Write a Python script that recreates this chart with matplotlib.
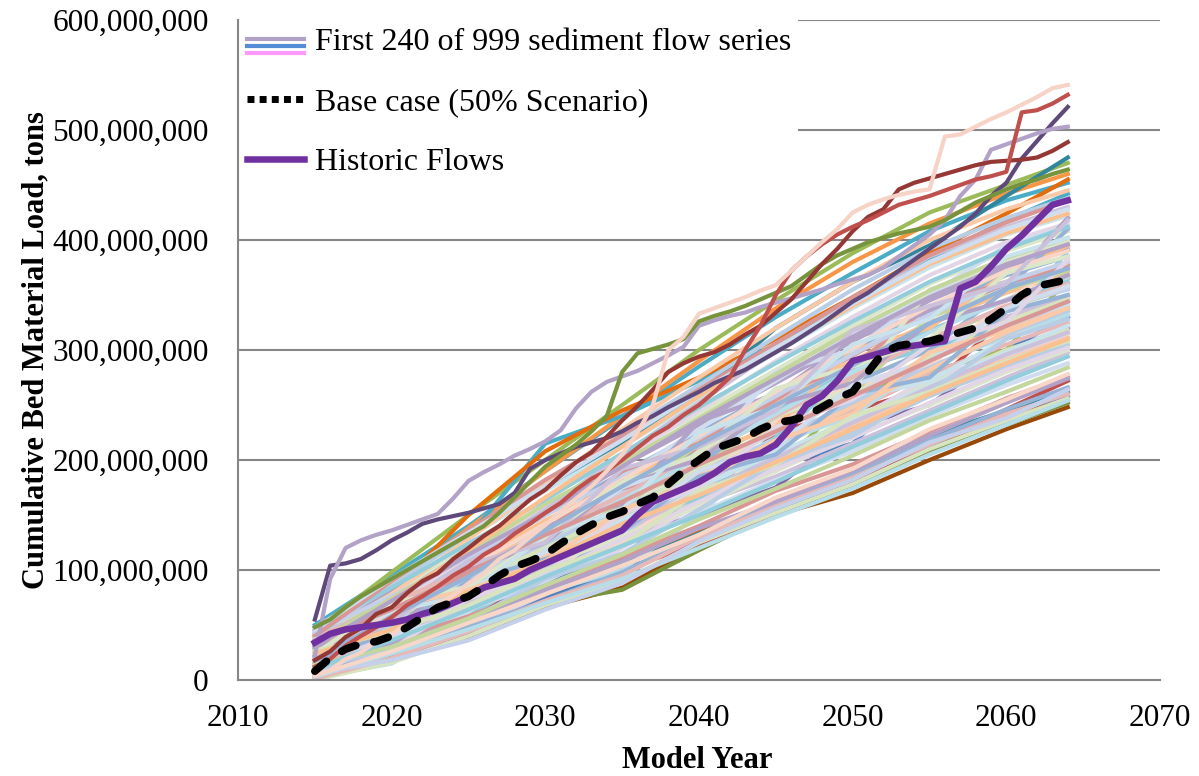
import matplotlib
matplotlib.use("Agg")
import matplotlib.pyplot as plt
from matplotlib.lines import Line2D
from matplotlib.legend_handler import HandlerBase
from matplotlib.ticker import FuncFormatter

plt.rcParams["font.family"] = ["Liberation Serif", "DejaVu Serif"]

# ---- data (million tons) ----
years = list(range(2015, 2065))
sample_years = [2015, 2020, 2025, 2030, 2035, 2040, 2045, 2050, 2055, 2060, 2064]

historic_flows = [
    34, 42, 46, 48, 50, 52, 55, 60, 64, 70,
    76, 84, 88, 92, 100, 106, 112, 118, 124, 130,
    136, 150, 162, 168, 174, 180, 188, 198, 203, 206,
    214, 230, 250, 258, 272, 290, 294, 298, 302, 304,
    306, 308, 356, 362, 376, 392, 404, 418, 432, 436,
]
base_case = [
    8, 20, 28, 33, 35, 40, 48, 57, 66, 71,
    76, 85, 95, 103, 108, 114, 124, 133, 141, 148,
    153, 160, 166, 178, 190, 200, 210, 215, 220, 228,
    234, 236, 240, 248, 256, 262, 280, 298, 304, 306,
    308, 312, 316, 320, 328, 338, 350, 358, 361, 364,
]

# series that stand out at the edges of the band, read year by year
edge_series = [
    [55, 104, 106, 110, 118, 127, 134, 142, 146, 149,
     152, 156, 160, 170, 192, 200, 206, 212, 216, 220,
     226, 234, 240, 248, 255, 262, 270, 276, 282, 290,
     298, 306, 315, 324, 334, 344, 352, 362, 372, 382,
     392, 402, 412, 424, 440, 452, 474, 490, 506, 521],
    [22, 92, 120, 127, 132, 136, 141, 146, 151, 165,
     181, 189, 196, 204, 210, 217, 227, 247, 262, 271,
     276, 281, 288, 295, 303, 322, 327, 331, 334, 339,
     343, 347, 351, 355, 360, 364, 368, 375, 385, 395,
     405, 418, 440, 455, 482, 487, 492, 497, 501, 503],
    [48, 55, 66, 76, 84, 92, 100, 108, 116, 124,
     132, 140, 152, 166, 180, 194, 204, 214, 226, 240,
     280, 297, 301, 305, 310, 326, 331, 335, 340, 346,
     352, 358, 368, 378, 386, 392, 398, 402, 406, 409,
     412, 418, 426, 434, 440, 446, 451, 455, 460, 464],
    [18, 26, 39, 47, 60, 66, 79, 90, 97, 110,
     120, 131, 140, 152, 164, 173, 186, 198, 207, 221,
     236, 249, 264, 280, 288, 294, 298, 305, 314, 322,
     334, 346, 362, 378, 392, 408, 421, 428, 446, 452,
     456, 460, 464, 468, 471, 472, 473, 475, 481, 489],
    [12, 19, 31, 40, 48, 57, 68, 76, 85, 95,
     103, 114, 122, 133, 142, 152, 161, 173, 183, 190,
     200, 211, 222, 230, 241, 250, 262, 275, 300, 322,
     350, 372, 385, 396, 405, 412, 418, 425, 432, 436,
     440, 445, 450, 455, 458, 462, 516, 518, 524, 532],
    [4, 9, 19, 25, 35, 41, 52, 58, 69, 77,
     88, 97, 110, 118, 130, 141, 153, 165, 176, 190,
     205, 225, 250, 300, 312, 333, 338, 343, 348, 354,
     359, 372, 385, 398, 410, 425, 432, 437, 441, 444,
     446, 494, 496, 503, 510, 516, 523, 530, 538, 541],
]

# remaining sediment series, read every five years
band_series = [
    [2, 18, 38, 66, 84, 122, 150, 170, 200, 228, 248],
    [4, 22, 45, 70, 82, 118, 152, 176, 208, 232, 252],
    [8, 28, 50, 75, 100, 126, 155, 178, 212, 236, 258],
    [12, 35, 60, 88, 110, 135, 160, 185, 215, 238, 255],
    [5, 28, 50, 80, 105, 133, 162, 190, 222, 245, 262],
    [20, 40, 62, 85, 100, 124, 150, 180, 214, 246, 272],
    [15, 38, 68, 98, 125, 160, 185, 215, 245, 275, 298],
    [10, 40, 72, 100, 135, 165, 195, 225, 258, 285, 305],
    [25, 52, 78, 110, 140, 172, 200, 232, 262, 292, 312],
    [3, 32, 62, 95, 130, 168, 205, 238, 270, 300, 318],
    [30, 60, 88, 118, 150, 180, 212, 245, 278, 305, 325],
    [18, 50, 85, 115, 148, 185, 220, 250, 285, 312, 332],
    [22, 55, 90, 125, 155, 190, 225, 262, 292, 320, 340],
    [35, 65, 95, 130, 165, 200, 232, 270, 300, 328, 348],
    [12, 45, 82, 120, 160, 195, 236, 275, 310, 338, 356],
    [28, 62, 100, 138, 172, 210, 245, 282, 318, 345, 362],
    [40, 72, 105, 145, 180, 218, 252, 290, 325, 352, 370],
    [8, 42, 80, 125, 170, 212, 255, 295, 332, 360, 378],
    [32, 70, 110, 150, 188, 225, 262, 300, 338, 368, 385],
    [45, 80, 118, 158, 195, 232, 270, 308, 345, 375, 392],
    [15, 55, 98, 140, 185, 228, 272, 315, 352, 382, 400],
    [38, 78, 122, 165, 205, 242, 282, 322, 360, 390, 408],
    [25, 68, 112, 158, 200, 245, 290, 330, 368, 398, 415],
    [48, 88, 130, 172, 212, 255, 298, 338, 375, 405, 422],
    [20, 62, 108, 155, 205, 252, 300, 345, 385, 412, 430],
    [42, 85, 132, 180, 225, 268, 312, 355, 392, 420, 438],
    [30, 78, 128, 178, 228, 275, 320, 362, 400, 428, 445],
    [50, 95, 140, 190, 238, 285, 330, 370, 408, 436, 452],
    [35, 85, 138, 190, 240, 290, 338, 380, 415, 442, 460],
    [45, 98, 150, 200, 250, 300, 345, 388, 425, 450, 470],
    [6, 20, 42, 95, 130, 150, 175, 230, 250, 300, 320],
    [10, 25, 70, 90, 110, 175, 195, 215, 280, 300, 330],
    [28, 40, 60, 110, 125, 160, 225, 245, 265, 330, 345],
    [15, 60, 75, 95, 150, 170, 190, 260, 280, 300, 365],
    [2, 15, 55, 80, 100, 150, 215, 240, 290, 320, 335],
    [24, 50, 65, 120, 170, 190, 210, 250, 310, 340, 355],
    [12, 30, 85, 105, 125, 180, 235, 265, 285, 345, 380],
    [36, 75, 90, 110, 160, 215, 240, 260, 330, 355, 372],
    [5, 38, 58, 100, 145, 165, 220, 282, 302, 322, 390],
    [20, 48, 95, 145, 165, 205, 230, 300, 320, 370, 395],
    [40, 58, 80, 135, 190, 215, 260, 285, 340, 362, 375],
    [8, 35, 65, 88, 140, 195, 250, 270, 300, 355, 410],
    [30, 68, 85, 140, 160, 235, 260, 310, 335, 360, 420],
    [18, 42, 100, 120, 175, 200, 280, 300, 350, 395, 412],
    [26, 52, 72, 128, 150, 208, 240, 265, 355, 380, 398],
    [10, 28, 48, 78, 120, 160, 200, 235, 275, 295, 315],
    [32, 58, 92, 115, 142, 175, 208, 255, 272, 310, 342],
    [16, 48, 70, 105, 138, 178, 215, 248, 290, 330, 350],
    [28, 62, 130, 215, 240, 272, 305, 345, 382, 418, 442],
    [22, 80, 150, 208, 245, 275, 310, 348, 388, 424, 455],
    [22, 90, 130, 175, 215, 260, 320, 362, 395, 440, 475],
    [14, 36, 58, 84, 112, 140, 172, 196, 226, 256, 276],
    [6, 26, 48, 72, 98, 132, 160, 186, 218, 246, 266],
    [9, 33, 55, 82, 108, 138, 162, 190, 222, 252, 274],
    [20, 42, 64, 90, 122, 152, 182, 208, 240, 268, 288],
    [26, 48, 75, 104, 130, 158, 190, 222, 250, 280, 300],
    [16, 40, 66, 96, 128, 162, 192, 220, 252, 282, 302],
    [34, 58, 84, 112, 146, 176, 206, 236, 268, 298, 322],
    [11, 37, 70, 104, 136, 170, 202, 234, 266, 296, 316],
    [42, 66, 92, 124, 156, 188, 218, 252, 284, 314, 336],
    [19, 46, 78, 112, 150, 186, 216, 248, 282, 316, 338],
    [27, 56, 88, 120, 152, 192, 228, 260, 294, 326, 346],
    [38, 70, 100, 134, 168, 204, 240, 276, 310, 340, 360],
    [13, 50, 88, 128, 164, 202, 242, 280, 316, 346, 366],
    [44, 76, 112, 150, 184, 220, 258, 296, 332, 362, 380],
    [23, 60, 102, 142, 182, 222, 262, 302, 340, 372, 390],
    [33, 74, 116, 160, 198, 238, 278, 318, 354, 384, 402],
    [47, 84, 124, 164, 206, 248, 288, 326, 362, 392, 412],
    [29, 72, 118, 166, 212, 258, 300, 340, 378, 406, 424],
    [40, 90, 136, 182, 222, 264, 306, 348, 386, 416, 436],
    [17, 44, 90, 110, 135, 185, 205, 260, 275, 335, 350],
    [31, 45, 100, 125, 180, 200, 250, 270, 325, 345, 368],
    [7, 40, 62, 118, 140, 190, 212, 268, 290, 338, 358],
    [24, 70, 85, 130, 180, 205, 265, 285, 310, 370, 385],
    [12, 28, 74, 96, 152, 175, 230, 255, 305, 325, 382],
    [37, 62, 78, 132, 155, 225, 248, 305, 328, 385, 402],
    [21, 52, 105, 125, 192, 212, 245, 318, 340, 360, 418],
    [9, 30, 54, 92, 115, 155, 198, 222, 262, 310, 328],
    [33, 66, 82, 108, 155, 180, 218, 242, 298, 318, 338],
    [26, 44, 68, 100, 122, 172, 196, 240, 262, 290, 308],
    [0, 16, 40, 68, 90, 125, 152, 178, 210, 236, 256],
    [1, 20, 44, 72, 95, 130, 158, 184, 214, 242, 260],
    [3, 24, 46, 70, 92, 120, 148, 174, 205, 232, 254],
    [6, 18, 36, 64, 88, 126, 156, 182, 216, 238, 264],
    [4, 26, 52, 78, 104, 132, 166, 192, 228, 255, 278],
    [14, 30, 56, 86, 114, 146, 174, 204, 236, 262, 284],
    [10, 36, 64, 94, 122, 150, 180, 212, 242, 272, 294],
    [24, 46, 80, 108, 142, 168, 198, 228, 260, 288, 310],
    [36, 64, 98, 132, 162, 196, 226, 258, 290, 322, 344],
    [18, 58, 94, 136, 176, 214, 250, 286, 324, 356, 374],
    [30, 72, 114, 152, 194, 236, 274, 312, 348, 378, 396],
    [46, 92, 134, 176, 218, 262, 302, 342, 380, 410, 428],
]

legend_labels = ["First 240 of 999 sediment flow series",
                 "Base case (50% Scenario)", "Historic Flows"]
y_ticks = [0, 100e6, 200e6, 300e6, 400e6, 500e6, 600e6]
x_ticks = [2010, 2020, 2030, 2040, 2050, 2060, 2070]

# ---- styles ----
SATURATED = ["#984807", "#77933C", "#4F81BD", "#E46C0A", "#31859C", "#C0504D"]
PASTELS = ["#CCC1DA", "#B9CDE5", "#FAC9A8", "#D7E4BD", "#E6B9B8", "#B7DEE8",
           "#C5D1EA", "#F8D7C8", "#C3D69B", "#92CDDC", "#FAC090", "#D99694",
           "#95B3D7", "#B3A2C7", "#D0DDEF", "#DCE6C8", "#E2D6E6", "#C9E3EC"]
band_colors = (SATURATED
               + [PASTELS[i % len(PASTELS)] for i in range(21)]
               + ["#4BACC6", "#F79646", "#9BBB59"]
               + ["#8064A2", "#4F81BD", "#C0504D", "#9BBB59"]
               + [PASTELS[(i + 5) % len(PASTELS)] for i in range(14)]
               + ["#4BACC6", "#E46C0A", "#31859C"]
               + [PASTELS[(i + 11) % len(PASTELS)] for i in range(29)]
               + [PASTELS[(i + 3) % len(PASTELS)] for i in range(12)])
edge_colors = ["#5F497A", "#B3A2C7", "#77933C", "#953735", "#C0504D", "#F6D3C6"]
GRID = "#868686"
M = 1e6

fig = plt.figure(figsize=(11.99, 7.76), dpi=100)
ax = fig.add_axes([238 / 1199, 1 - 680 / 776, 922 / 1199, 660 / 776])

for vals, col in zip(band_series, band_colors):
    z = 1.5 if col in PASTELS else 1.2
    ax.plot(sample_years, [v * M for v in vals], color=col, lw=3.0, zorder=z,
            solid_joinstyle="round")
for vals, col in zip(edge_series, edge_colors):
    ax.plot(years, [v * M for v in vals], color=col, lw=3.0, zorder=1.8,
            solid_joinstyle="round")

ax.plot(years, [v * M for v in historic_flows], color="#7030A0", lw=4.7,
        zorder=5, solid_joinstyle="round")
ax.plot(years, [v * M for v in base_case], color="black", lw=5.5, zorder=6,
        linestyle=(0, (2.0, 2.4)), dash_capstyle="round")

ax.set_xlim(2010, 2070)
ax.set_ylim(0, 600e6)
ax.set_xticks(x_ticks)
ax.set_yticks(y_ticks)
ax.yaxis.set_major_formatter(FuncFormatter(lambda v, p: f"{int(round(v)):,}"))
ax.tick_params(axis="both", length=0, labelsize=22.5)
ax.tick_params(axis="y", pad=21)
ax.tick_params(axis="x", pad=17)

# gridlines; the top two are hidden behind the legend on the left
legend_right = (799 - 238) / 922
for yv in y_ticks[1:]:
    ax.axhline(yv, xmin=legend_right if yv >= 500e6 else 0, xmax=1,
               color=GRID, lw=1.5, zorder=0.5)
for side in ("top", "right"):
    ax.spines[side].set_visible(False)
for side in ("left", "bottom"):
    ax.spines[side].set_color(GRID)
    ax.spines[side].set_linewidth(1.5)

ax.set_ylabel("Cumulative Bed Material Load, tons", fontsize=22, fontweight="bold")
ax.yaxis.set_label_coords(-0.204, 0.5)
ax.set_xlabel("Model Year", fontsize=22, fontweight="bold")
ax.xaxis.set_label_coords(0.498, -0.1)


class StackedLines(HandlerBase):
    def __init__(self, colors, gap):
        super().__init__()
        self.colors = colors
        self.gap = gap

    def create_artists(self, legend, orig_handle, xdescent, ydescent,
                       width, height, fontsize, trans):
        mid = height / 2 - ydescent - 5
        lines = []
        for i, c in enumerate(self.colors):
            y = mid + (1 - i) * self.gap
            lines.append(Line2D([-xdescent, -xdescent + width], [y, y],
                                color=c, lw=3, transform=trans))
        return lines


series_proxy = Line2D([], [], color="#558ED5")
base_proxy = Line2D([], [], color="black", lw=5, linestyle=(0, (1.0, 0.75)))
hist_proxy = Line2D([], [], color="#7030A0", lw=4.7)
leg = ax.legend([series_proxy, base_proxy, hist_proxy], legend_labels,
                loc="upper left", bbox_to_anchor=(247 / 1199, 1 - 28 / 776),
                bbox_transform=fig.transFigure, borderaxespad=0,
                fontsize=23, frameon=False, handlelength=1.78,
                handletextpad=0.34, labelspacing=0.95, borderpad=0,
                handler_map={series_proxy: StackedLines(["#B3A2C7", "#558ED5", "#FF99FF"], 4.8)})
leg.set_zorder(10)

fig.savefig("out.png", dpi=100)
